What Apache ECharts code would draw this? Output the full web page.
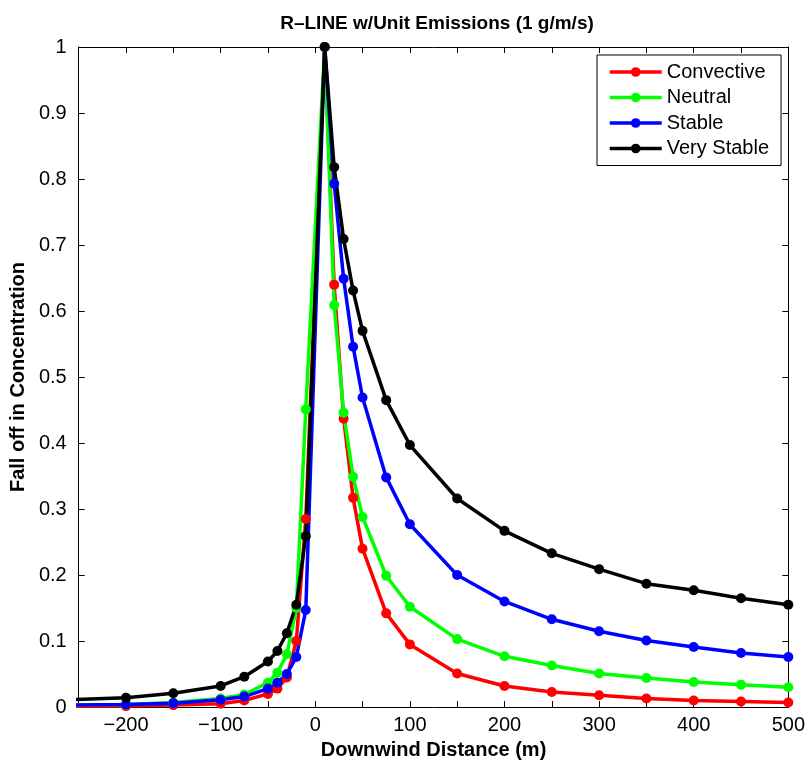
<!DOCTYPE html>
<html>
<head>
<meta charset="utf-8">
<script src="https://cdn.jsdelivr.net/npm/echarts@6/dist/echarts.min.js"></script>
<style>
html,body{margin:0;padding:0;background:#fff;}
#chart{width:808px;height:765px;}
</style>
</head>
<body>
<div id="chart"></div>
<script>
// Downwind distances (m); first point lies left of the visible axis (clipped)
var distances = [-300, -200, -150, -100, -75, -50, -40, -30, -20, -10, 10, 20, 30, 40, 50, 75, 100, 150, 200, 250, 300, 350, 400, 450, 500];

var convective = [0.001, 0.0015, 0.003, 0.005, 0.010, 0.020, 0.028, 0.045, 0.100, 0.285, 1.0, 0.640, 0.437, 0.317, 0.240, 0.142, 0.095, 0.051, 0.032, 0.023, 0.018, 0.013, 0.010, 0.0086, 0.007];
var neutral    = [0.003, 0.004, 0.007, 0.013, 0.019, 0.037, 0.052, 0.080, 0.150, 0.451, 1.0, 0.609, 0.446, 0.349, 0.288, 0.199, 0.152, 0.103, 0.077, 0.063, 0.051, 0.044, 0.038, 0.034, 0.030];
var stable     = [0.0025, 0.004, 0.006, 0.011, 0.016, 0.028, 0.037, 0.050, 0.076, 0.147, 1.0, 0.793, 0.649, 0.546, 0.469, 0.348, 0.277, 0.200, 0.160, 0.133, 0.115, 0.101, 0.091, 0.082, 0.076];
var veryStable = [0.009, 0.014, 0.021, 0.032, 0.046, 0.069, 0.085, 0.112, 0.155, 0.259, 1.0, 0.818, 0.709, 0.631, 0.570, 0.465, 0.397, 0.316, 0.267, 0.233, 0.209, 0.187, 0.177, 0.165, 0.155];

var seriesNames = ['Convective', 'Neutral', 'Stable', 'Very Stable'];
var seriesColors = ['#ff0000', '#00ff00', '#0000ff', '#000000'];
var seriesValues = [convective, neutral, stable, veryStable];

var xMin = -250, xMax = 500, xStep = 50;
var yMin = 0, yMax = 1, yStep = 0.1;

var FONT = '"Liberation Sans", Arial, Helvetica, sans-serif';

function pairs(vals) {
  return distances.map(function (d, i) { return [d, vals[i]]; });
}

var chart = echarts.init(document.getElementById('chart'), null, {renderer: 'canvas'});

var axisLineStyle = {color: '#000', width: 1};

var option = {
  backgroundColor: '#fff',
  animation: false,
  title: {
    text: 'R\u2013LINE w/Unit Emissions (1 g/m/s)',
    left: 432,
    top: 9,
    textAlign: 'center',
    textStyle: {fontFamily: FONT, fontSize: 19, fontWeight: 'bold', color: '#000'}
  },
  legend: {
    orient: 'vertical',
    left: 597,
    top: 55,
    padding: [7, 12, 7, 11],
    itemWidth: 52,
    itemHeight: 12,
    itemGap: 5.5,
    backgroundColor: '#fff',
    borderColor: '#000',
    borderWidth: 1,
    borderRadius: 0,
    lineStyle: {width: 3.5},
    textStyle: {fontFamily: FONT, fontSize: 20, color: '#000', lineHeight: 20},
    data: seriesNames
  },
  grid: {left: 76, right: 19, top: 47, bottom: 55, containLabel: false},
  xAxis: [{
    type: 'value',
    min: xMin, max: xMax, interval: xStep,
    position: 'bottom',
    name: 'Downwind Distance (m)',
    nameLocation: 'middle',
    nameGap: 23,
    nameTextStyle: {fontFamily: FONT, fontSize: 20, fontWeight: 'bold', color: '#000'},
    axisLine: {show: true, onZero: false, lineStyle: axisLineStyle},
    axisTick: {show: true, inside: true, length: 6, lineStyle: axisLineStyle},
    splitLine: {show: false},
    axisLabel: {
      fontFamily: FONT, fontSize: 20, color: '#000', margin: 8,
      showMinLabel: false,
      formatter: function (v) {
        if (v % 100 !== 0 || v === xMin) return '';
        return String(v).replace('-', '\u2212');
      }
    }
  }, {
    type: 'value',
    min: xMin, max: xMax, interval: xStep,
    position: 'top',
    axisLine: {show: true, onZero: false, lineStyle: axisLineStyle},
    axisTick: {show: true, inside: true, length: 6, lineStyle: axisLineStyle},
    splitLine: {show: false},
    axisLabel: {show: false}
  }],
  yAxis: [{
    type: 'value',
    min: yMin, max: yMax, interval: yStep,
    position: 'left',
    name: 'Fall off in Concentration',
    nameLocation: 'middle',
    nameGap: 44,
    nameTextStyle: {fontFamily: FONT, fontSize: 20, fontWeight: 'bold', color: '#000'},
    axisLine: {show: true, onZero: false, lineStyle: axisLineStyle},
    axisTick: {show: true, inside: true, length: 6, lineStyle: axisLineStyle},
    splitLine: {show: false},
    axisLabel: {
      fontFamily: FONT, fontSize: 20, color: '#000', margin: 12,
      formatter: function (v) { return String(Math.round(v * 10) / 10); }
    }
  }, {
    type: 'value',
    min: yMin, max: yMax, interval: yStep,
    position: 'right',
    axisLine: {show: true, onZero: false, lineStyle: axisLineStyle},
    axisTick: {show: true, inside: true, length: 6, lineStyle: axisLineStyle},
    splitLine: {show: false},
    axisLabel: {show: false}
  }],
  series: seriesNames.map(function (name, i) {
    return {
      name: name,
      type: 'line',
      xAxisIndex: 0,
      yAxisIndex: 0,
      data: pairs(seriesValues[i]),
      clip: true,
      symbol: 'circle',
      symbolSize: 10,
      showAllSymbol: true,
      color: seriesColors[i],
      lineStyle: {color: seriesColors[i], width: 3.5},
      itemStyle: {color: seriesColors[i]},
      emphasis: {disabled: true}
    };
  })
};

chart.setOption(option);
</script>
</body>
</html>
